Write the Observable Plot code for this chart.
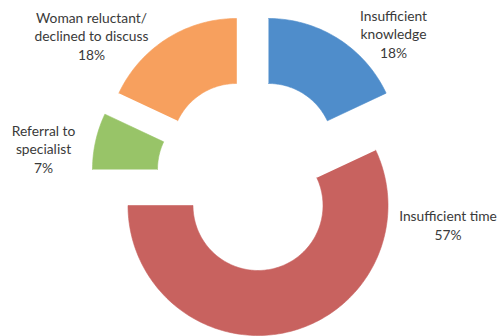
<!DOCTYPE html>
<html>
<head>
<meta charset="utf-8">
<script src="https://cdn.jsdelivr.net/npm/d3@7"></script>
<script src="https://cdn.jsdelivr.net/npm/@observablehq/plot@0.6"></script>
<style>
  html, body { margin: 0; padding: 0; background: #fff; }
</style>
</head>
<body>
<div id="chart"></div>
<script>
// ---- data ----
const categories = ["Insufficient knowledge", "Insufficient time", "Referral to specialist", "Woman reluctant/declined to discuss"];
const values = [18, 57, 7, 18];
const labelTexts = ["Insufficient\nknowledge", "Insufficient time", "Referral to\nspecialist", "Woman reluctant/\ndeclined to discuss"];
const colors = ["#4f8dcb", "#c8625f", "#98c468", "#f7a05e"];

// ---- layout ----
const W = 500, H = 336;
const base = [252, 172];
const outerR = 130, innerR = 65;
const explode = [[16, -24], [5.5, 33], [-30, -3], [-16, -24]];      // slice offsets (px)
const labelOffset = [[125, -115], [190, 19], [-179, -21], [-145, -113]]; // label centre relative to slice centre

const arcs = d3.pie().sort(null).value(d => d)(values);

const polyPts = [];
const labels = [];
arcs.forEach((a, i) => {
  const cx = base[0] + explode[i][0], cy = base[1] + explode[i][1];
  const n = Math.max(8, Math.ceil((a.endAngle - a.startAngle) / 0.02));
  const pt = (r, t) => ({cat: categories[i], x: cx + r * Math.sin(t), y: cy - r * Math.cos(t)});
  for (let k = 0; k <= n; k++) polyPts.push(pt(outerR, a.startAngle + (a.endAngle - a.startAngle) * k / n));
  for (let k = n; k >= 0; k--) polyPts.push(pt(innerR, a.startAngle + (a.endAngle - a.startAngle) * k / n));
  const pct = Math.round(a.value / d3.sum(values) * 100) + "%";
  labels.push({x: cx + labelOffset[i][0], y: cy + labelOffset[i][1], text: labelTexts[i] + "\n" + pct});
});

const chart = Plot.plot({
  width: W,
  height: H,
  margin: 0,
  style: {fontFamily: "Lato, 'Open Sans', sans-serif", background: "#fff"},
  x: {domain: [0, W], range: [0, W], axis: null},
  y: {domain: [0, H], range: [0, H], axis: null},
  color: {domain: categories, range: colors},
  marks: [
    Plot.line(polyPts, {x: "x", y: "y", z: "cat", fill: "cat", stroke: "cat", strokeWidth: 0.6, curve: "linear"}),
    Plot.text(labels, {x: "x", y: "y", text: "text", textAnchor: "middle", lineAnchor: "middle", lineHeight: 1.33, fontSize: 13.8, fill: "#3a3a3a"})
  ]
});
document.getElementById("chart").appendChild(chart);
</script>
</body>
</html>
